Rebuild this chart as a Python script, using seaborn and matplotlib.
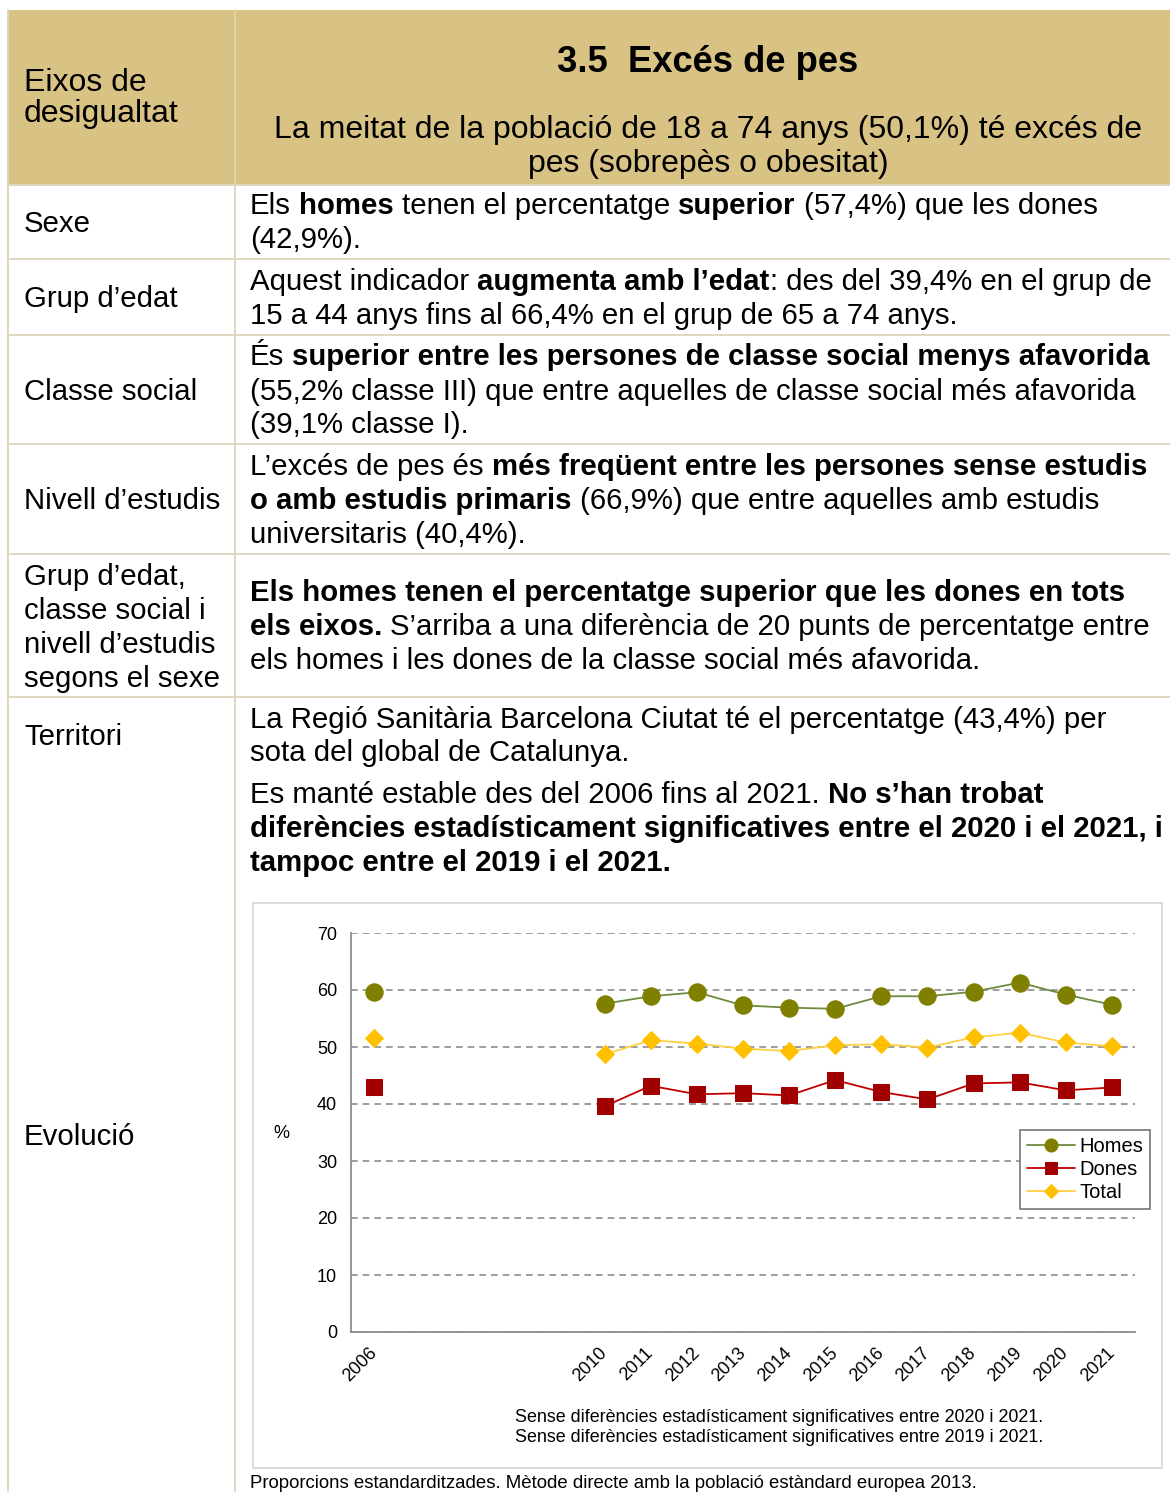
import numpy as np
import pandas as pd
import matplotlib
matplotlib.use("Agg")
import matplotlib.pyplot as plt
import seaborn as sns
from matplotlib.font_manager import FontProperties
from matplotlib.patches import Rectangle

# ---------------- data ----------------
categories = ["2006", "", "", "", "", "2010", "2011", "2012", "2013", "2014",
              "2015", "2016", "2017", "2018", "2019", "2020", "2021"]
nan = np.nan
homes = [59.7, nan, nan, nan, nan, 57.6, 58.9, 59.6, 57.3, 56.9, 56.7, 58.9, 58.9, 59.7, 61.3, 59.2, 57.4]
dones = [42.9, nan, nan, nan, nan, 39.6, 43.2, 41.7, 41.9, 41.5, 44.2, 42.1, 40.8, 43.6, 43.8, 42.4, 42.9]
total = [51.5, nan, nan, nan, nan, 48.7, 51.2, 50.6, 49.7, 49.3, 50.3, 50.5, 49.9, 51.7, 52.5, 50.8, 50.1]
series_names = ["Homes", "Dones", "Total"]
y_ticks = [0, 10, 20, 30, 40, 50, 60, 70]

title = "3.5  Excés de pes"
subtitle_lines = ["La meitat de la població de 18 a 74 anys (50,1%) té excés de",
                  "pes (sobrepès o obesitat)"]
header_left = ["Eixos de", "desigualtat"]
row_labels = [["Sexe"], ["Grup d’edat"], ["Classe social"], ["Nivell d’estudis"],
              ["Grup d’edat,", "classe social i", "nivell d’estudis", "segons el sexe"],
              ["Territori"], ["Evolució"]]
right_texts = [
    [[("Els ", 0), ("homes", 1), (" tenen el percentatge ", 0), ("superior", 1), (" (57,4%) que les dones", 0)],
     [("(42,9%).", 0)]],
    [[("Aquest indicador ", 0), ("augmenta amb l’edat", 1), (": des del 39,4% en el grup de", 0)],
     [("15 a 44 anys fins al 66,4% en el grup de 65 a 74 anys.", 0)]],
    [[("És ", 0), ("superior entre les persones de classe social menys afavorida", 1)],
     [("(55,2% classe III) que entre aquelles de classe social més afavorida", 0)],
     [("(39,1% classe I).", 0)]],
    [[("L’excés de pes és ", 0), ("més freqüent entre les persones sense estudis", 1)],
     [("o amb estudis primaris", 1), (" (66,9%) que entre aquelles amb estudis", 0)],
     [("universitaris (40,4%).", 0)]],
    [[("Els homes tenen el percentatge superior que les dones en tots", 1)],
     [("els eixos.", 1), (" S’arriba a una diferència de 20 punts de percentatge entre", 0)],
     [("els homes i les dones de la classe social més afavorida.", 0)]],
    [[("La Regió Sanitària Barcelona Ciutat té el percentatge (43,4%) per", 0)],
     [("sota del global de Catalunya.", 0)]],
    [[("Es manté estable des del 2006 fins al 2021. ", 0), ("No s’han trobat", 1)],
     [("diferències estadísticament significatives entre el 2020 i el 2021, i", 1)],
     [("tampoc entre el 2019 i el 2021.", 1)]],
]
chart_notes = ["Sense diferències estadísticament significatives entre 2020 i 2021.",
               "Sense diferències estadísticament significatives entre 2019 i 2021."]
bottom_note = "Proporcions estandarditzades. Mètode directe amb la població estàndard europea 2013."

# ---------------- layout / style ----------------
W, H = 1170, 1492
FAMILY = ["Liberation Sans", "DejaVu Sans"]
sns.set_style("white")
plt.rcParams["font.family"] = FAMILY
plt.rcParams["text.color"] = "black"
plt.rcParams["xtick.color"] = "black"
plt.rcParams["ytick.color"] = "black"

left_baselines = [[232], [307], [400], [509], [585, 619, 653, 687], [745], [1145]]
right_baselines = [[214, 248], [290, 324], [365, 400, 433], [475, 509, 543],
                   [601, 635, 669], [728, 761], [803, 837, 871]]
row_lines_y = [185, 259, 335, 444, 554, 697]
LINE_C = "#DCD6BE"
HEAD_C = "#D9C384"

fig = plt.figure(figsize=(W / 100, H / 100), dpi=100)
fig.patch.set_facecolor("white")
bg = fig.add_axes([0, 0, 1, 1])
bg.set_xlim(0, W)
bg.set_ylim(H, 0)
bg.axis("off")
renderer = fig.canvas.get_renderer()


def fp(size, bold):
    return FontProperties(family=FAMILY, size=size, weight="bold" if bold else "normal")


def text_w(s, size, bold):
    w1, _, _ = renderer.get_text_width_height_descent("|" + s + "|", fp(size, bold), ismath=False)
    w0, _, _ = renderer.get_text_width_height_descent("||", fp(size, bold), ismath=False)
    return w1 - w0


def runs_w(runs, size):
    return sum(text_w(s, size, b) for s, b in runs)


def draw_runs(x, y, runs, size):
    for s, b in runs:
        lead = len(s) - len(s.lstrip(" "))
        core = s.strip(" ")
        x += text_w(" " * lead, size, b) if lead else 0
        if core:
            bg.text(x, y, core, fontsize=size, fontweight="bold" if b else "normal",
                    ha="left", va="baseline", color="black")
            x += text_w(core, size, b)
        trail = len(s) - len(s.rstrip(" "))
        if trail and core:
            x += text_w(" " * trail, size, b)


# fit font sizes to measured widths in the reference
BODY = 20 * 847 / runs_w(right_texts[0][0], 20)
HEAD = 20 * 868 / text_w(subtitle_lines[0], 20, False)
TITLE = 22 * 302 / text_w(title, 22, True)
NOTE = 12 * 528 / text_w(chart_notes[0], 12, False)
BNOTE = 12 * 730 / text_w(bottom_note, 12, False)

# table: header fill and lines
bg.add_patch(Rectangle((8, 10), W - 8, 175, facecolor=HEAD_C, edgecolor="none", zorder=0))
for y in row_lines_y:
    bg.plot([8, W], [y, y], color=LINE_C, lw=1.3, zorder=1)
bg.plot([8, 8], [10, H], color=LINE_C, lw=1.3, zorder=1)
bg.plot([235, 235], [185, H], color=LINE_C, lw=1.3, zorder=1)
bg.plot([235, 235], [10, 185], color="#E4D6A6", lw=1.3, zorder=1)

# header texts
bg.text(708, 72, title, fontsize=TITLE, fontweight="bold", ha="center", va="baseline", color="black")
for s, yb in zip(subtitle_lines, [138, 172]):
    bg.text(708, yb, s, fontsize=HEAD, ha="center", va="baseline", color="black")
for s, yb in zip(header_left, [91, 122]):
    bg.text(24, yb, s, fontsize=HEAD, ha="left", va="baseline", color="black")

# rows
for labels, ybs in zip(row_labels, left_baselines):
    for s, yb in zip(labels, ybs):
        bg.text(24, yb, s, fontsize=BODY, ha="left", va="baseline", color="black")
for lines, ybs in zip(right_texts, right_baselines):
    for runs, yb in zip(lines, ybs):
        draw_runs(250, yb, runs, BODY)

# chart frame and notes
bg.add_patch(Rectangle((253, 903), 909, 565, facecolor="none", edgecolor="#D9D9D2", lw=1.3, zorder=1))
for s, yb in zip(chart_notes, [1422, 1442]):
    bg.text(515, yb, s, fontsize=NOTE, ha="left", va="baseline", color="black")
bg.text(250, 1488, bottom_note, fontsize=BNOTE, ha="left", va="baseline", color="black")
bg.text(281, 1133, "%", fontsize=13, ha="center", va="center", color="black")

# ---------------- chart ----------------
ax = fig.add_axes([351 / W, 1 - 1332 / H, 784 / W, 399 / H])
ax.patch.set_visible(False)

styles = {
    "Homes": dict(marker="o", markersize=12.5, mfc="#7F7F00", mec="#7F7F00", color="#6E8B3D"),
    "Dones": dict(marker="s", markersize=11.5, mfc="#A00000", mec="#A00000", color="#C00000"),
    "Total": dict(marker="D", markersize=9.5, mfc="#FFC000", mec="#FFC000", color="#FFD040"),
}
pos = np.arange(len(categories))
for name, vals in zip(series_names, [homes, dones, total]):
    v = np.asarray(vals, dtype=float)
    ok = ~np.isnan(v)
    seg_id = np.cumsum(~ok)
    for sid in np.unique(seg_id[ok]):
        m = ok & (seg_id == sid)
        d = pd.DataFrame({"x": pos[m], "y": v[m]})
        st = styles[name]
        sns.lineplot(data=d, x="x", y="y", ax=ax, marker=st["marker"], markersize=st["markersize"],
                     markerfacecolor=st["mfc"], markeredgecolor=st["mec"], color=st["color"],
                     linewidth=1.3, label=name if (m.sum() > 1) else None, legend=False,
                     zorder=3)

ax.set_xlim(-0.5, len(categories) - 0.5)
ax.set_ylim(0, 70)
ax.set_yticks(y_ticks)
ax.set_yticklabels([str(t) for t in y_ticks])
ax.set_xticks(np.arange(len(categories) + 1) - 0.5)
ax.set_xticklabels([""] * (len(categories) + 1))
ax.set_xticks(pos, minor=True)
ax.set_xticklabels(categories, minor=True, rotation=45, ha="right", va="center",
                   rotation_mode="anchor", fontsize=13)
ax.tick_params(axis="x", which="major", length=6, width=1.2, color="#8C8C8C", direction="out")
ax.tick_params(axis="x", which="minor", length=0, pad=13, labelcolor="black")
ax.tick_params(axis="y", length=5, width=1.2, color="#8C8C8C", direction="out", labelsize=13, pad=5,
               labelcolor="black")
ax.yaxis.grid(True, linestyle=(0, (4, 3)), color="#8C8C8C", lw=1.2)
ax.xaxis.grid(False)
ax.set_axisbelow(True)
for sp in ["top", "right"]:
    ax.spines[sp].set_visible(False)
for sp in ["left", "bottom"]:
    ax.spines[sp].set_color("#8C8C8C")
    ax.spines[sp].set_linewidth(1.3)
ax.set_xlabel("")
ax.set_ylabel("")

handles, labels = ax.get_legend_handles_labels()
leg = ax.legend(handles, labels, loc="upper right", bbox_to_anchor=(1150 / W, 1 - 1130 / H),
                bbox_transform=fig.transFigure, frameon=True, fancybox=False, framealpha=1,
                edgecolor="#808080", fontsize=14.5, handlelength=2.4, labelspacing=0.2,
                borderpad=0.35, handletextpad=0.2, markerscale=0.75, borderaxespad=0)
leg.get_frame().set_linewidth(1.3)
for t in leg.get_texts():
    t.set_color("black")

fig.savefig("out.png", dpi=100, facecolor="white")
